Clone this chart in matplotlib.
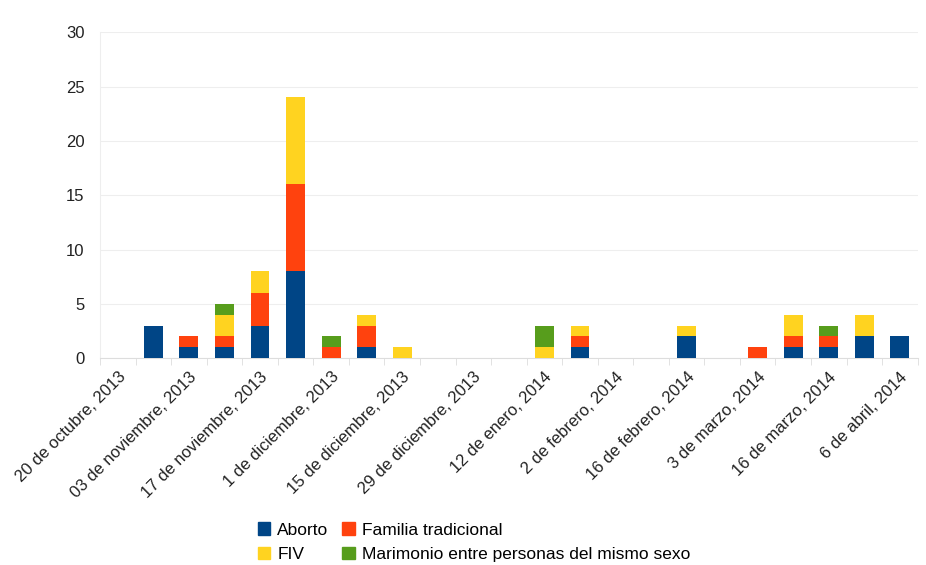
import numpy as np
import matplotlib.pyplot as plt
from matplotlib.patches import Patch

plt.rcParams['font.family'] = ['Liberation Sans', 'DejaVu Sans']

# one bar per week, labels every second week
etiquetas = ['20 de octubre, 2013', '03 de noviembre, 2013', '17 de noviembre, 2013',
             '1 de diciembre, 2013', '15 de diciembre, 2013', '29 de diciembre, 2013',
             '12 de enero, 2014', '2 de febrero, 2014', '16 de febrero, 2014',
             '3 de marzo, 2014', '16 de marzo, 2014', '6 de abril, 2014']
aborto   = [0, 3, 1, 1, 3, 8, 0, 1, 0, 0, 0, 0, 0, 1, 0, 0, 2, 0, 0, 1, 1, 2, 2]
familia  = [0, 0, 1, 1, 3, 8, 1, 2, 0, 0, 0, 0, 0, 1, 0, 0, 0, 0, 1, 1, 1, 0, 0]
fiv      = [0, 0, 0, 2, 2, 8, 0, 1, 1, 0, 0, 0, 1, 1, 0, 0, 1, 0, 0, 2, 0, 2, 0]
marimonio = [0, 0, 0, 1, 0, 0, 1, 0, 0, 0, 0, 0, 2, 0, 0, 0, 0, 0, 0, 0, 1, 0, 0]

series = [('Aborto', aborto, '#004586'),
          ('Familia tradicional', familia, '#FF420E'),
          ('FIV', fiv, '#FFD320'),
          ('Marimonio entre personas del mismo sexo', marimonio, '#579D1C')]

fig = plt.figure(figsize=(9.26, 5.65), dpi=100)
ax = fig.add_axes([0.108, 0.366, 0.883, 0.577])

x = np.arange(len(aborto))
base = np.zeros(len(aborto))
for nombre, vals, color in series:
    vals = np.array(vals, dtype=float)
    ax.bar(x, vals, width=0.53, bottom=base, color=color, zorder=3)
    base += vals

ax.set_xlim(-0.5, len(aborto) - 0.5)
ax.set_ylim(0, 30)
ax.set_yticks(range(0, 31, 5))
ax.grid(axis='y', color='#eeeeee', linewidth=0.8, zorder=0)

for s in ['top', 'right']:
    ax.spines[s].set_visible(False)
ax.spines['left'].set_color('#eeeeee')
ax.spines['bottom'].set_color('#dddddd')

ax.set_xticks(np.arange(0, len(aborto), 2))
ax.set_xticklabels(etiquetas, rotation=45, ha='right', rotation_mode='anchor', fontsize=12, color='#222222')
ax.set_xticks(np.arange(-0.5, len(aborto), 1), minor=True)
ax.tick_params(axis='x', which='major', length=0, pad=8)
ax.tick_params(axis='x', which='minor', length=5, color='#dddddd')
ax.tick_params(axis='y', length=0, labelsize=12, pad=11, labelcolor='#222222')

handles = [Patch(color=c) for _, _, c in series]
labels = [n for n, _, _ in series]
order = [0, 2, 1, 3]
fig.legend([handles[i] for i in order], [labels[i] for i in order], ncol=2,
           loc='center', bbox_to_anchor=(0.512, 0.04), frameon=False, fontsize=12.5,
           handlelength=0.7, handleheight=0.7, handletextpad=0.4, columnspacing=0.8,
           labelspacing=0.55)

fig.savefig('out.png', dpi=100)
